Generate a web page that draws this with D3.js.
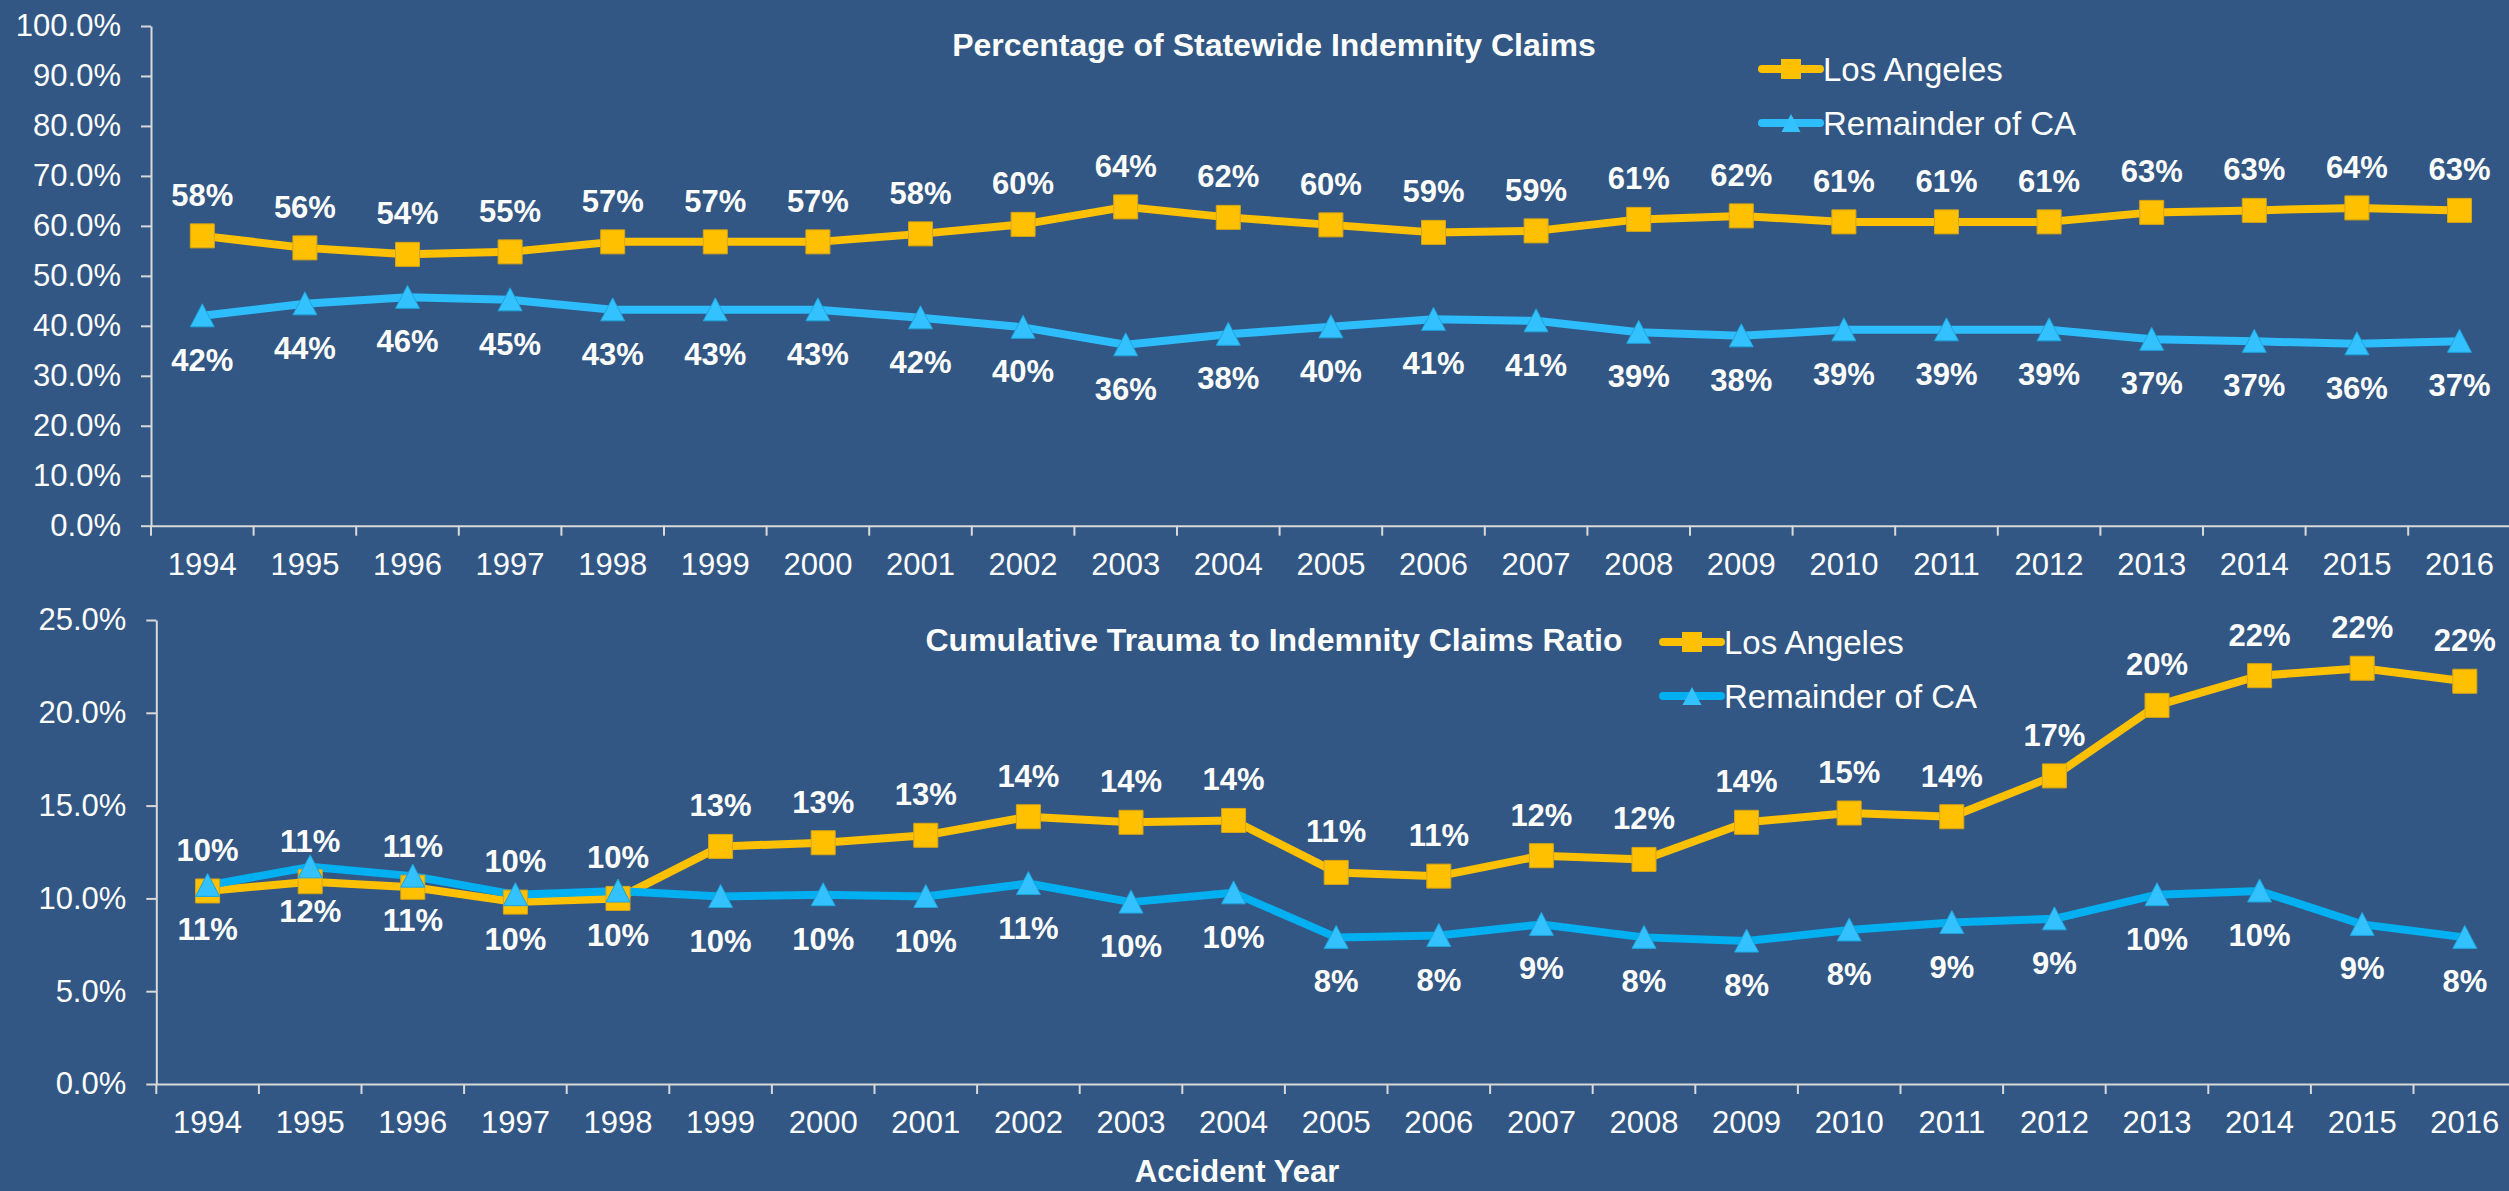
<!DOCTYPE html>
<html><head><meta charset="utf-8">
<script src="https://cdn.jsdelivr.net/npm/d3@7"></script>
<style>
html,body{margin:0;padding:0;background:#325784;}
svg{display:block;}
</style></head><body>
<svg id="chart" width="2509" height="1191"></svg>
<script>
// ---------- data ----------
const years = [1994,1995,1996,1997,1998,1999,2000,2001,2002,2003,2004,2005,2006,2007,2008,2009,2010,2011,2012,2013,2014,2015,2016];
const seriesNames = ["Los Angeles", "Remainder of CA"];

// Percentage of Statewide Indemnity Claims (%)
const laShare  = [58.0,55.6,54.3,54.8,56.8,56.8,56.8,58.4,60.3,63.8,61.7,60.2,58.7,59.0,61.3,62.0,60.8,60.8,60.8,62.7,63.1,63.6,63.1];
const remShare = [42.0,44.4,45.7,45.2,43.2,43.2,43.2,41.6,39.7,36.2,38.3,39.8,41.3,41.0,38.7,38.0,39.2,39.2,39.2,37.3,36.9,36.4,36.9];

// Cumulative Trauma to Indemnity Claims Ratio (%)
const laCT  = [10.4,10.9,10.6,9.8,10.0,12.8,13.0,13.4,14.4,14.1,14.2,11.4,11.2,12.3,12.1,14.1,14.6,14.4,16.6,20.4,22.0,22.4,21.7];
const remCT = [10.7,11.7,11.2,10.2,10.4,10.1,10.2,10.1,10.8,9.8,10.3,7.9,8.0,8.6,7.9,7.7,8.3,8.7,8.9,10.2,10.4,8.6,7.9];

const shareTicks = [0,10,20,30,40,50,60,70,80,90,100];
const ctTicks = [0,5,10,15,20,25];
const titles = ["Percentage of Statewide Indemnity Claims", "Cumulative Trauma to Indemnity Claims Ratio"];
const xTitle = "Accident Year";

// ---------- style ----------
const FONT = "'Liberation Sans', Arial, Helvetica, sans-serif";
const AXIS_COLOR = "#D9D9D9";
const YELLOW = "#FFC000";
const YELLOW_EDGE = "#D9A514";
const BLUE_MARK = "#33C1FF";
const BLUE_EDGE = "#1FA5DD";
const BAND = 102.6;

const svg = d3.select("#chart");

function panel(cfg) {
  const x = d3.scaleBand().domain(years).range([cfg.x0, cfg.x0 + years.length * BAND]);
  const y = d3.scaleLinear().domain([0, cfg.max]).range([cfg.yBottom, cfg.yTop]);
  const g = svg.append("g");

  // y axis
  const ya = g.append("g")
    .attr("transform", `translate(${cfg.x0},0)`)
    .call(d3.axisLeft(y).tickValues(cfg.ticks).tickSize(10).tickSizeOuter(0).tickPadding(20)
      .tickFormat(d => d3.format(".1f")(d) + "%"));
  ya.style("color", AXIS_COLOR).attr("font-family", FONT).attr("font-size", 31);
  ya.selectAll("path,line").attr("stroke-width", 2);
  ya.selectAll("text").attr("fill", "#fff");

  // x axis (labels)
  const xa = g.append("g")
    .attr("transform", `translate(0,${cfg.yBottom})`)
    .call(d3.axisBottom(x).tickSize(0).tickPadding(27).tickSizeOuter(0));
  xa.style("color", AXIS_COLOR).attr("font-family", FONT).attr("font-size", 31);
  xa.select(".domain").attr("stroke-width", 2);
  xa.selectAll("text").attr("fill", "#fff");
  // category boundary ticks
  const bounds = years.map(d => x(d)).concat([x(years[years.length - 1]) + x.bandwidth()]);
  g.append("g").selectAll("line").data(bounds).join("line")
    .attr("x1", d => d).attr("x2", d => d)
    .attr("y1", cfg.yBottom).attr("y2", cfg.yBottom + 10)
    .attr("stroke", AXIS_COLOR).attr("stroke-width", 2);

  const cx = (d, i) => x(years[i]) + x.bandwidth() / 2;
  const line = d3.line().x((d, i) => cx(d, i)).y(d => y(d));

  const series = [
    {vals: cfg.la, color: YELLOW, mark: "square", labelDy: -30},
    {vals: cfg.rem, color: cfg.remLine, mark: "triangle", labelDy: 55}
  ];
  series.forEach(s => {
    g.append("path").datum(s.vals).attr("d", line)
      .attr("fill", "none").attr("stroke", s.color).attr("stroke-width", 8)
      .attr("stroke-linejoin", "round");
  });
  series.forEach(s => {
    const mk = g.append("g").selectAll("path").data(s.vals).join("path")
      .attr("transform", (d, i) => `translate(${cx(d, i)},${y(d)})`);
    if (s.mark === "square") {
      mk.attr("d", "M-12,-12H12V12H-12Z").attr("fill", YELLOW).attr("stroke", YELLOW_EDGE).attr("stroke-width", 1);
    } else {
      mk.attr("d", "M0,-12L12,11H-12Z").attr("fill", BLUE_MARK).attr("stroke", BLUE_EDGE).attr("stroke-width", 1);
    }
  });
  series.forEach(s => {
    g.append("g").selectAll("text").data(s.vals).join("text")
      .attr("x", (d, i) => cx(d, i)).attr("y", d => y(d) + s.labelDy)
      .attr("text-anchor", "middle").attr("font-family", FONT).attr("font-size", 31)
      .attr("font-weight", "bold").attr("fill", "#fff")
      .text(d => Math.round(d) + "%");
  });

  // title
  g.append("text").attr("x", 1274).attr("y", cfg.titleY).attr("text-anchor", "middle")
    .attr("font-family", FONT).attr("font-size", 32).attr("font-weight", "bold").attr("fill", "#fff")
    .text(cfg.title);

  // legend
  const lg = g.append("g");
  seriesNames.forEach((name, i) => {
    const cy = cfg.legY + i * 54;
    const col = i === 0 ? YELLOW : cfg.remLine;
    lg.append("line").attr("x1", cfg.legX).attr("x2", cfg.legX + 58).attr("y1", cy).attr("y2", cy)
      .attr("stroke", col).attr("stroke-width", 8).attr("stroke-linecap", "round");
    if (i === 0) {
      lg.append("path").attr("transform", `translate(${cfg.legX + 29},${cy})`)
        .attr("d", "M-10,-10H10V10H-10Z").attr("fill", YELLOW);
    } else {
      lg.append("path").attr("transform", `translate(${cfg.legX + 29},${cy})`)
        .attr("d", "M0,-9L9.5,9H-9.5Z").attr("fill", BLUE_MARK);
    }
    lg.append("text").attr("x", cfg.legX + 61).attr("y", cy + 11.5)
      .attr("font-family", FONT).attr("font-size", 33).attr("fill", "#fff").text(name);
  });
}

panel({x0: 151, yTop: 26, yBottom: 525.7, max: 100, ticks: shareTicks,
  la: laShare, rem: remShare, remLine: "#2DBDFC", title: titles[0], titleY: 56,
  legX: 1762, legY: 69});
panel({x0: 156.3, yTop: 620, yBottom: 1084, max: 25, ticks: ctTicks,
  la: laCT, rem: remCT, remLine: "#00B0F0", title: titles[1], titleY: 651,
  legX: 1663, legY: 642});

svg.append("text").attr("x", 1237).attr("y", 1182).attr("text-anchor", "middle")
  .attr("font-family", FONT).attr("font-size", 31).attr("font-weight", "bold").attr("fill", "#fff")
  .text(xTitle);
</script>
</body></html>
